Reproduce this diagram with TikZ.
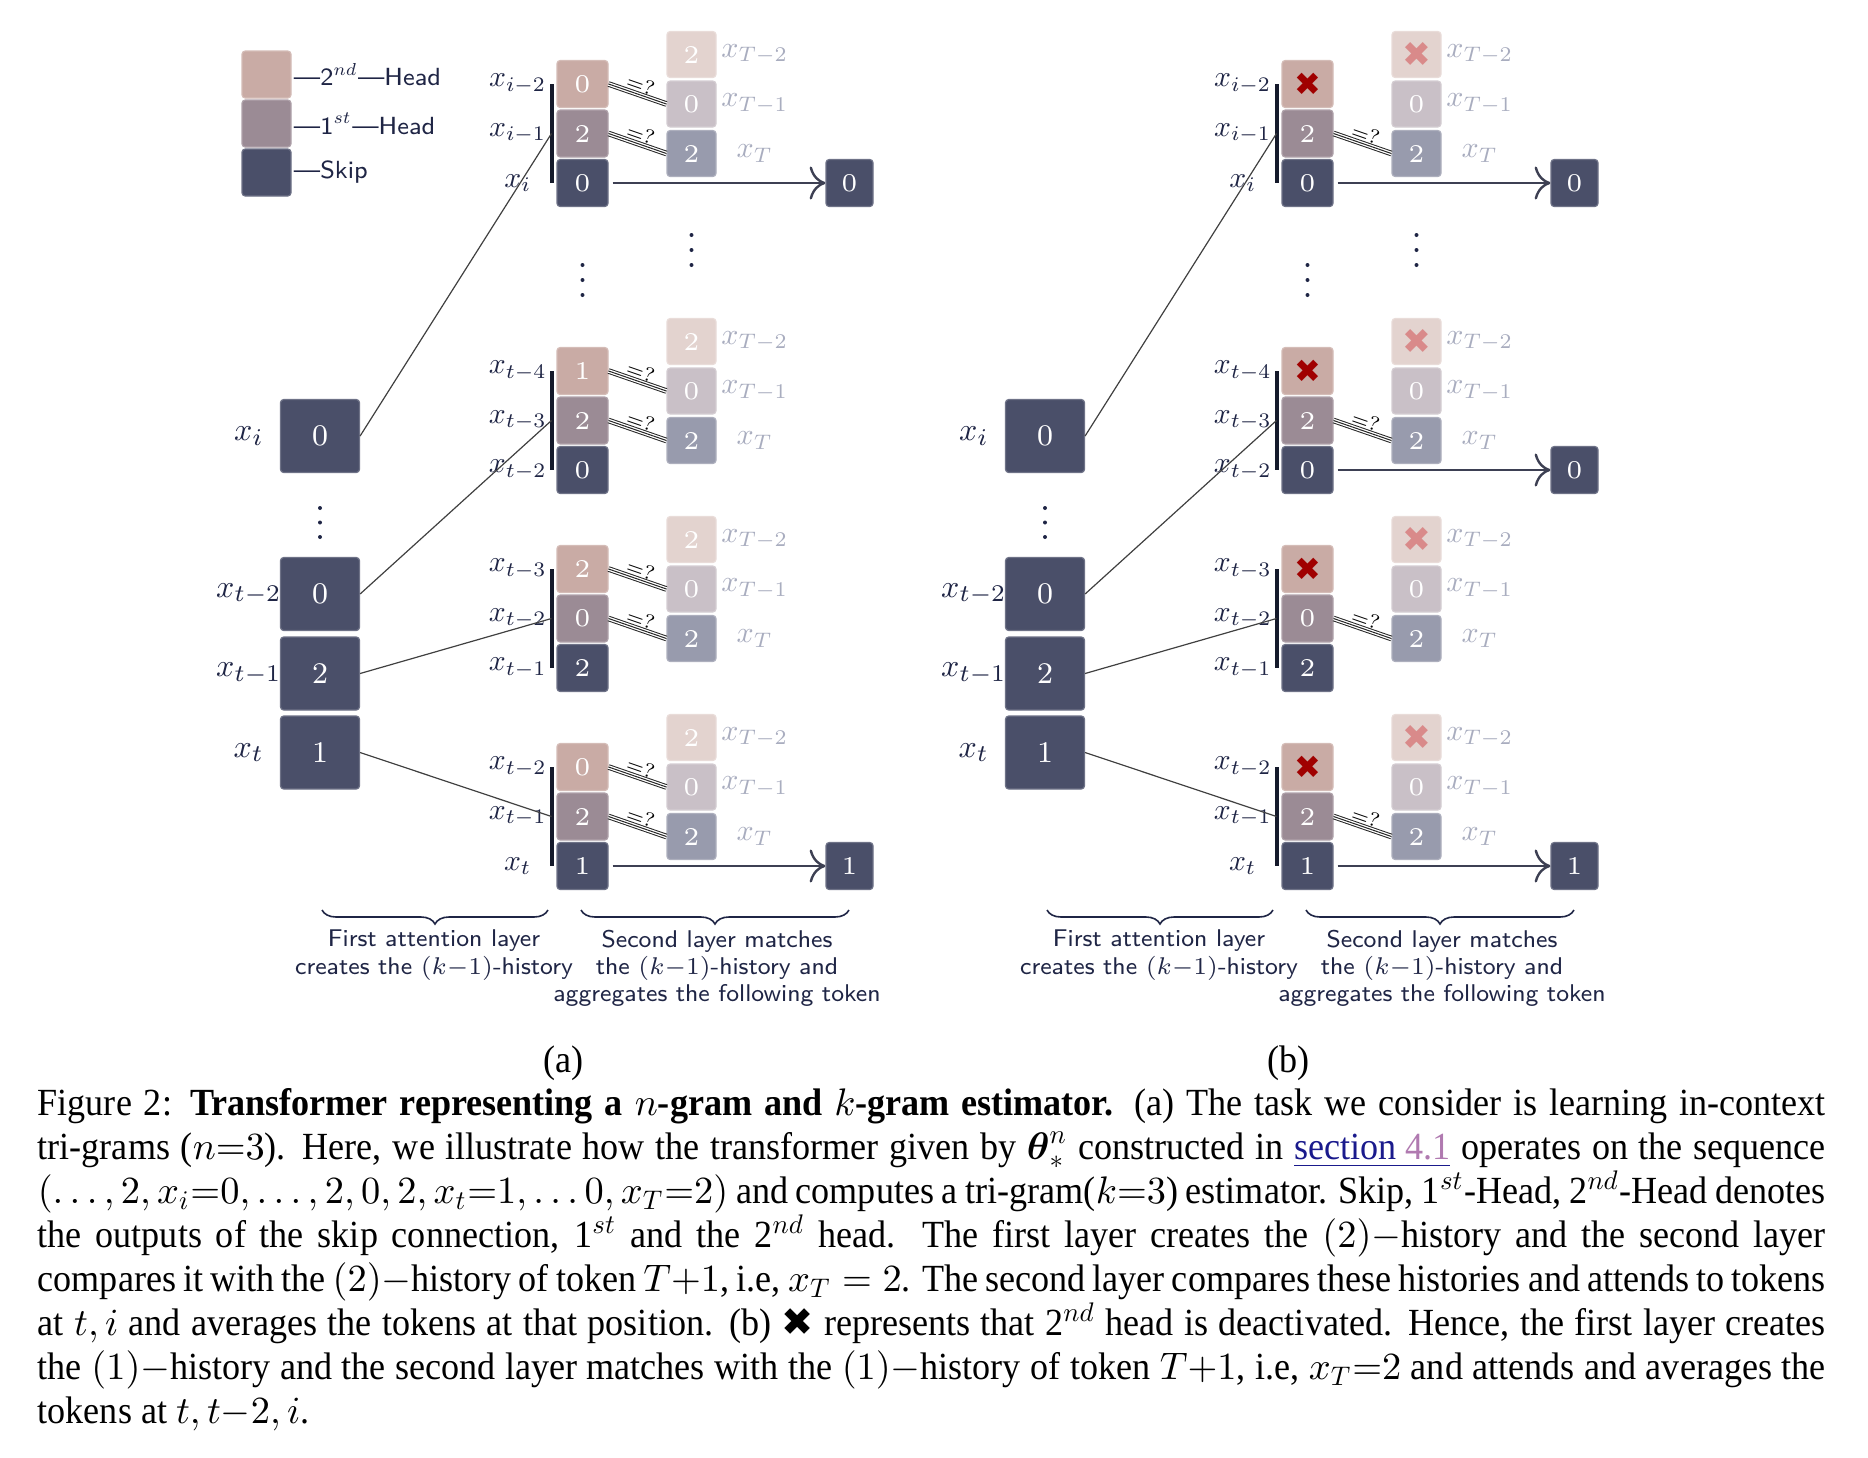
\RequirePackage{fix-cm}
\documentclass[tikz,border=0pt]{standalone}
\usepackage{amsmath}
\usepackage{fontspec}
\usepackage{tikz}
\usetikzlibrary{decorations.pathreplacing,arrows.meta}

\DeclareFontShape{OML}{cmm}{m}{it}{<-6.5> cmmi7 <6.5-> cmmi10}{\skewchar\font127 }
\DeclareFontShape{OMS}{cmsy}{m}{n}{<-6.5> cmsy7 <6.5-> cmsy10}{\skewchar\font48 }
\DeclareFontShape{OT1}{cmr}{m}{n}{<-6.5> cmr7 <6.5-> cmr10}{}

\newfontfamily\capfont[FakeStretch=0.94]{Liberation Serif}
\newfontfamily\symfont{DejaVu Sans}

\definecolor{skipc}{HTML}{4A4F69}
\definecolor{firsth}{HTML}{9B8B95}
\definecolor{secondh}{HTML}{C9ABA5}
\definecolor{fskip}{HTML}{989BAD}
\definecolor{ffirst}{HTML}{C9C0C7}
\definecolor{fsecond}{HTML}{E3D3CF}
\definecolor{ink}{HTML}{1F2545}
\definecolor{tlbl}{HTML}{A9ADBF}
\definecolor{xred}{HTML}{A00000}
\definecolor{xfade}{HTML}{D98A8A}
\definecolor{arrowc}{HTML}{3D4053}
\definecolor{barc}{HTML}{151A2B}
\definecolor{linkblue}{HTML}{1A1A8C}
\definecolor{linkpink}{HTML}{B07AB0}

\newcommand{\headoff}{{\symfont\fontsize{8}{8}\selectfont\textcolor{xred}{✖}}}
\newcommand{\headfade}{{\symfont\fontsize{8.6}{8.6}\selectfont\textcolor{xfade}{✖}}}

\tikzset{
  tok/.style={rounded corners=0.8pt, inner sep=0pt, text=white, line width=0.3pt,
    font=\fontsize{6.4}{7}\selectfont},
  bigtok/.style={tok, minimum width=19.75pt, minimum height=18.25pt, fill=skipc,
    draw=skipc!80!white, font=\fontsize{7.5}{8}\selectfont},
  hb/.style={tok, minimum width=12.75pt, minimum height=11.75pt, fill=secondh, draw=secondh!80!white},
  ha/.style={tok, minimum width=12.75pt, minimum height=11.75pt, fill=firsth, draw=firsth!80!white},
  sk/.style={tok, minimum width=12.75pt, minimum height=11.75pt, fill=skipc, draw=skipc!80!white},
  fhb/.style={tok, minimum width=12.25pt, minimum height=11.5pt, fill=fsecond, draw=fsecond!80!white},
  fha/.style={tok, minimum width=12.25pt, minimum height=11.5pt, fill=ffirst, draw=ffirst!80!white},
  fsk/.style={tok, minimum width=12.25pt, minimum height=11.5pt, fill=fskip, draw=fskip!80!white},
  outtok/.style={tok, minimum width=11.75pt, minimum height=11.75pt, fill=skipc, draw=skipc!80!white},
  lgd/.style={tok, minimum width=12.25pt, minimum height=11.75pt},
  legtext/.style={anchor=west, inner sep=0.4pt, text=ink, font=\sffamily\fontsize{6.2}{7}\selectfont},
  lbl/.style={text=ink, inner sep=0pt, font=\fontsize{7.4}{9}\selectfont},
  biglbl/.style={lbl, font=\fontsize{8}{9}\selectfont},
  tlab/.style={text=tlbl, inner sep=0pt, font=\fontsize{7.5}{9}\selectfont},
  bar/.style={draw=barc, line width=1pt},
  feed/.style={draw=black!75, line width=0.3pt},
  eqline/.style={draw=black!85, line width=0.25pt,
    preaction={draw=black!85, double=white, double distance=0.9pt}},
  eqlab/.style={sloped, above, inner sep=0.6pt, text=black, font=\fontsize{5}{5}\selectfont},
  outarrow/.style={-{To[scale=1.35]}, draw=arrowc, line width=0.6pt, shorten <=1pt},
  brc/.style={draw=ink, line width=0.4pt, decorate, decoration={brace, mirror, amplitude=3.5pt}},
  note/.style={anchor=north, align=center, inner sep=0pt, text=ink,
    font=\sffamily\fontsize{6.05}{6.85}\selectfont},
  sublab/.style={inner sep=0pt, font=\capfont\fontsize{9.6}{11}\selectfont}
}

\begin{document}
\begin{tikzpicture}[x=0.25pt,y=-0.25pt]
\useasboundingbox (0,0) rectangle (1868,1458);

% legend
\node[lgd,fill=secondh,draw=secondh!80!white] (lg2) at (266.5,74.5) {};
\node[lgd,fill=firsth,draw=firsth!80!white] (lg1) at (266.5,123.5) {};
\node[lgd,fill=skipc,draw=skipc!80!white] (lgs) at (266.5,172.5) {};
\node[legtext] (lg2t) at (lg2.east) {—2$^{nd}$—Head};
\node[legtext] (lg1t) at (lg1.east) {—1$^{st}$—Head};
\node[legtext] (lgst) at (lgs.east) {—Skip};

% ---------------- (a) ----------------
\node[biglbl] (alxi) at (249,436) {$x_i$};
\node[bigtok] (axi) at (320,436) {0};
\node[biglbl] (alxt2) at (249,594) {$x_{t-2}$};
\node[bigtok] (axt2) at (320,594) {0};
\node[biglbl] (alxt1) at (249,673.5) {$x_{t-1}$};
\node[bigtok] (axt1) at (320,673.5) {2};
\node[biglbl] (alxt) at (249,752.5) {$x_t$};
\node[bigtok] (axt) at (320,752.5) {1};
\fill[ink] (320,508) circle (0.5pt) (320,522.5) circle (0.5pt) (320,537) circle (0.5pt);

% group 1
\coordinate (a1top) at (551.5,84);
\coordinate (a1mid) at (551.5,133.5);
\coordinate (a1bot) at (551.5,183);
\draw[bar] (a1top) -- (a1bot);
\node[lbl] (a1l2) at (518,84) {$x_{i-2}$};
\node[lbl] (a1l1) at (518,133.5) {$x_{i-1}$};
\node[lbl] (a1l0) at (518,183) {$x_i$};
\node[hb] (a1b) at (582.5,84) {0};
\node[ha] (a1a) at (582.5,133.5) {2};
\node[sk] (a1s) at (582.5,183) {0};
\node[fhb] (a1T2) at (691.5,54.5) {2};
\node[fha] (a1T1) at (691.5,104) {0};
\node[fsk] (a1T0) at (691.5,153.5) {2};
\node[tlab] (a1m2) at (755,54.5) {$x_{T-2}$};
\node[tlab] (a1m1) at (755,104) {$x_{T-1}$};
\node[tlab] (a1m0) at (755,153.5) {$x_T$};
\draw[eqline] (a1b.east) -- node[eqlab] {$=?$} (a1T1.west);
\draw[eqline] (a1a.east) -- node[eqlab] {$=?$} (a1T0.west);
\node[outtok] (a1o) at (849.5,183) {0};
\draw[outarrow] (a1s) -- (a1o);

\fill[ink] (582.5,265) circle (0.5pt) (582.5,280) circle (0.5pt) (582.5,295) circle (0.5pt);
\fill[ink] (691.5,235) circle (0.5pt) (691.5,250) circle (0.5pt) (691.5,265) circle (0.5pt);

% group 2
\coordinate (a2top) at (551.5,371);
\coordinate (a2mid) at (551.5,420.5);
\coordinate (a2bot) at (551.5,470);
\draw[bar] (a2top) -- (a2bot);
\node[lbl] (a2l2) at (518,371) {$x_{t-4}$};
\node[lbl] (a2l1) at (518,420.5) {$x_{t-3}$};
\node[lbl] (a2l0) at (518,470) {$x_{t-2}$};
\node[hb] (a2b) at (582.5,371) {1};
\node[ha] (a2a) at (582.5,420.5) {2};
\node[sk] (a2s) at (582.5,470) {0};
\node[fhb] (a2T2) at (691.5,341.5) {2};
\node[fha] (a2T1) at (691.5,391) {0};
\node[fsk] (a2T0) at (691.5,440.5) {2};
\node[tlab] (a2m2) at (755,341.5) {$x_{T-2}$};
\node[tlab] (a2m1) at (755,391) {$x_{T-1}$};
\node[tlab] (a2m0) at (755,440.5) {$x_T$};
\draw[eqline] (a2b.east) -- node[eqlab] {$=?$} (a2T1.west);
\draw[eqline] (a2a.east) -- node[eqlab] {$=?$} (a2T0.west);

% group 3
\coordinate (a3top) at (551.5,569);
\coordinate (a3mid) at (551.5,618.5);
\coordinate (a3bot) at (551.5,668);
\draw[bar] (a3top) -- (a3bot);
\node[lbl] (a3l2) at (518,569) {$x_{t-3}$};
\node[lbl] (a3l1) at (518,618.5) {$x_{t-2}$};
\node[lbl] (a3l0) at (518,668) {$x_{t-1}$};
\node[hb] (a3b) at (582.5,569) {2};
\node[ha] (a3a) at (582.5,618.5) {0};
\node[sk] (a3s) at (582.5,668) {2};
\node[fhb] (a3T2) at (691.5,539.5) {2};
\node[fha] (a3T1) at (691.5,589) {0};
\node[fsk] (a3T0) at (691.5,638.5) {2};
\node[tlab] (a3m2) at (755,539.5) {$x_{T-2}$};
\node[tlab] (a3m1) at (755,589) {$x_{T-1}$};
\node[tlab] (a3m0) at (755,638.5) {$x_T$};
\draw[eqline] (a3b.east) -- node[eqlab] {$=?$} (a3T1.west);
\draw[eqline] (a3a.east) -- node[eqlab] {$=?$} (a3T0.west);

% group 4
\coordinate (a4top) at (551.5,767);
\coordinate (a4mid) at (551.5,816.5);
\coordinate (a4bot) at (551.5,866);
\draw[bar] (a4top) -- (a4bot);
\node[lbl] (a4l2) at (518,767) {$x_{t-2}$};
\node[lbl] (a4l1) at (518,816.5) {$x_{t-1}$};
\node[lbl] (a4l0) at (518,866) {$x_t$};
\node[hb] (a4b) at (582.5,767) {0};
\node[ha] (a4a) at (582.5,816.5) {2};
\node[sk] (a4s) at (582.5,866) {1};
\node[fhb] (a4T2) at (691.5,737.5) {2};
\node[fha] (a4T1) at (691.5,787) {0};
\node[fsk] (a4T0) at (691.5,836.5) {2};
\node[tlab] (a4m2) at (755,737.5) {$x_{T-2}$};
\node[tlab] (a4m1) at (755,787) {$x_{T-1}$};
\node[tlab] (a4m0) at (755,836.5) {$x_T$};
\draw[eqline] (a4b.east) -- node[eqlab] {$=?$} (a4T1.west);
\draw[eqline] (a4a.east) -- node[eqlab] {$=?$} (a4T0.west);
\node[outtok] (a4o) at (849.5,866) {1};
\draw[outarrow] (a4s) -- (a4o);

% first layer
\draw[feed] (axi.east) -- (a1mid);
\draw[feed] (axt2.east) -- (a2mid);
\draw[feed] (axt1.east) -- (a3mid);
\draw[feed] (axt.east) -- (a4mid);

\coordinate (abr1l) at (322,910);
\coordinate (abr1r) at (548,910);
\coordinate (abr2l) at (581,910);
\coordinate (abr2r) at (849,910);
\draw[brc] (abr1l) -- (abr1r);
\draw[brc] (abr2l) -- (abr2r);
\node[note] (anote1) at (434,929) {First attention layer\\creates the $(k{-}1)$-history};
\node[note] (anote2) at (717,929) {Second layer matches\\the $(k{-}1)$-history and\\aggregates the following token};
\node[sublab] (capa) at (563.5,1063) {(a)};

% ---------------- (b) ----------------
\begin{scope}[xshift=181.25pt]
\node[biglbl] (blxi) at (249,436) {$x_i$};
\node[bigtok] (bxi) at (320,436) {0};
\node[biglbl] (blxt2) at (249,594) {$x_{t-2}$};
\node[bigtok] (bxt2) at (320,594) {0};
\node[biglbl] (blxt1) at (249,673.5) {$x_{t-1}$};
\node[bigtok] (bxt1) at (320,673.5) {2};
\node[biglbl] (blxt) at (249,752.5) {$x_t$};
\node[bigtok] (bxt) at (320,752.5) {1};
\fill[ink] (320,508) circle (0.5pt) (320,522.5) circle (0.5pt) (320,537) circle (0.5pt);

% group 1
\coordinate (b1top) at (551.5,84);
\coordinate (b1mid) at (551.5,133.5);
\coordinate (b1bot) at (551.5,183);
\draw[bar] (b1top) -- (b1bot);
\node[lbl] (b1l2) at (518,84) {$x_{i-2}$};
\node[lbl] (b1l1) at (518,133.5) {$x_{i-1}$};
\node[lbl] (b1l0) at (518,183) {$x_i$};
\node[hb] (b1b) at (582.5,84) {\headoff};
\node[ha] (b1a) at (582.5,133.5) {2};
\node[sk] (b1s) at (582.5,183) {0};
\node[fhb] (b1T2) at (691.5,54.5) {\headfade};
\node[fha] (b1T1) at (691.5,104) {0};
\node[fsk] (b1T0) at (691.5,153.5) {2};
\node[tlab] (b1m2) at (755,54.5) {$x_{T-2}$};
\node[tlab] (b1m1) at (755,104) {$x_{T-1}$};
\node[tlab] (b1m0) at (755,153.5) {$x_T$};
\draw[eqline] (b1a.east) -- node[eqlab] {$=?$} (b1T0.west);
\node[outtok] (b1o) at (849.5,183) {0};
\draw[outarrow] (b1s) -- (b1o);

\fill[ink] (582.5,265) circle (0.5pt) (582.5,280) circle (0.5pt) (582.5,295) circle (0.5pt);
\fill[ink] (691.5,235) circle (0.5pt) (691.5,250) circle (0.5pt) (691.5,265) circle (0.5pt);

% group 2
\coordinate (b2top) at (551.5,371);
\coordinate (b2mid) at (551.5,420.5);
\coordinate (b2bot) at (551.5,470);
\draw[bar] (b2top) -- (b2bot);
\node[lbl] (b2l2) at (518,371) {$x_{t-4}$};
\node[lbl] (b2l1) at (518,420.5) {$x_{t-3}$};
\node[lbl] (b2l0) at (518,470) {$x_{t-2}$};
\node[hb] (b2b) at (582.5,371) {\headoff};
\node[ha] (b2a) at (582.5,420.5) {2};
\node[sk] (b2s) at (582.5,470) {0};
\node[fhb] (b2T2) at (691.5,341.5) {\headfade};
\node[fha] (b2T1) at (691.5,391) {0};
\node[fsk] (b2T0) at (691.5,440.5) {2};
\node[tlab] (b2m2) at (755,341.5) {$x_{T-2}$};
\node[tlab] (b2m1) at (755,391) {$x_{T-1}$};
\node[tlab] (b2m0) at (755,440.5) {$x_T$};
\draw[eqline] (b2a.east) -- node[eqlab] {$=?$} (b2T0.west);
\node[outtok] (b2o) at (849.5,470) {0};
\draw[outarrow] (b2s) -- (b2o);

% group 3
\coordinate (b3top) at (551.5,569);
\coordinate (b3mid) at (551.5,618.5);
\coordinate (b3bot) at (551.5,668);
\draw[bar] (b3top) -- (b3bot);
\node[lbl] (b3l2) at (518,569) {$x_{t-3}$};
\node[lbl] (b3l1) at (518,618.5) {$x_{t-2}$};
\node[lbl] (b3l0) at (518,668) {$x_{t-1}$};
\node[hb] (b3b) at (582.5,569) {\headoff};
\node[ha] (b3a) at (582.5,618.5) {0};
\node[sk] (b3s) at (582.5,668) {2};
\node[fhb] (b3T2) at (691.5,539.5) {\headfade};
\node[fha] (b3T1) at (691.5,589) {0};
\node[fsk] (b3T0) at (691.5,638.5) {2};
\node[tlab] (b3m2) at (755,539.5) {$x_{T-2}$};
\node[tlab] (b3m1) at (755,589) {$x_{T-1}$};
\node[tlab] (b3m0) at (755,638.5) {$x_T$};
\draw[eqline] (b3a.east) -- node[eqlab] {$=?$} (b3T0.west);

% group 4
\coordinate (b4top) at (551.5,767);
\coordinate (b4mid) at (551.5,816.5);
\coordinate (b4bot) at (551.5,866);
\draw[bar] (b4top) -- (b4bot);
\node[lbl] (b4l2) at (518,767) {$x_{t-2}$};
\node[lbl] (b4l1) at (518,816.5) {$x_{t-1}$};
\node[lbl] (b4l0) at (518,866) {$x_t$};
\node[hb] (b4b) at (582.5,767) {\headoff};
\node[ha] (b4a) at (582.5,816.5) {2};
\node[sk] (b4s) at (582.5,866) {1};
\node[fhb] (b4T2) at (691.5,737.5) {\headfade};
\node[fha] (b4T1) at (691.5,787) {0};
\node[fsk] (b4T0) at (691.5,836.5) {2};
\node[tlab] (b4m2) at (755,737.5) {$x_{T-2}$};
\node[tlab] (b4m1) at (755,787) {$x_{T-1}$};
\node[tlab] (b4m0) at (755,836.5) {$x_T$};
\draw[eqline] (b4a.east) -- node[eqlab] {$=?$} (b4T0.west);
\node[outtok] (b4o) at (849.5,866) {1};
\draw[outarrow] (b4s) -- (b4o);

% first layer
\draw[feed] (bxi.east) -- (b1mid);
\draw[feed] (bxt2.east) -- (b2mid);
\draw[feed] (bxt1.east) -- (b3mid);
\draw[feed] (bxt.east) -- (b4mid);

\coordinate (bbr1l) at (322,910);
\coordinate (bbr1r) at (548,910);
\coordinate (bbr2l) at (581,910);
\coordinate (bbr2r) at (849,910);
\draw[brc] (bbr1l) -- (bbr1r);
\draw[brc] (bbr2l) -- (bbr2r);
\node[note] (bnote1) at (434,929) {First attention layer\\creates the $(k{-}1)$-history};
\node[note] (bnote2) at (717,929) {Second layer matches\\the $(k{-}1)$-history and\\aggregates the following token};
\node[sublab] (capb) at (563.5,1063) {(b)};
\end{scope}

% caption
\node[anchor=north west, inner sep=0pt, align=left,
  font=\capfont\fontsize{9.6}{11}\selectfont] (caption) at (37,1087.5) {%
\makebox[447pt][s]{Figure 2: \textbf{Transformer representing a $n$-gram and $k$-gram estimator.} (a) The task we consider is learning in-context}\\
\makebox[447pt][s]{tri-grams ($n{=}3$). Here, we illustrate how the transformer given by $\boldsymbol{\theta}^n_*$ constructed in \textcolor{linkblue}{\underline{section \textcolor{linkpink}{4.1}}} operates on the sequence}\\
\makebox[447pt][s]{$(\dots,2,x_i{=}0,\dots,2,0,2,x_t{=}1,\dots0,x_T{=}2)$ and computes a tri-gram($k{=}3$) estimator. Skip, 1$^{st}$-Head, 2$^{nd}$-Head denotes}\\
\makebox[447pt][s]{the outputs of the skip connection, 1$^{st}$ and the 2$^{nd}$ head. The first layer creates the $(2)-$history and the second layer}\\
\makebox[447pt][s]{compares it with the $(2)-$history of token $T{+}1$, i.e, $x_T=2$. The second layer compares these histories and attends to tokens}\\
\makebox[447pt][s]{at $t,i$ and averages the tokens at that position. (b) {\symfont ✖} represents that 2$^{nd}$ head is deactivated. Hence, the first layer creates}\\
\makebox[447pt][s]{the $(1)-$history and the second layer matches with the $(1)-$history of token $T{+}1$, i.e, $x_T{=}2$ and attends and averages the}\\
tokens at $t,t{-}2,i$.};
\end{tikzpicture}
\end{document}
